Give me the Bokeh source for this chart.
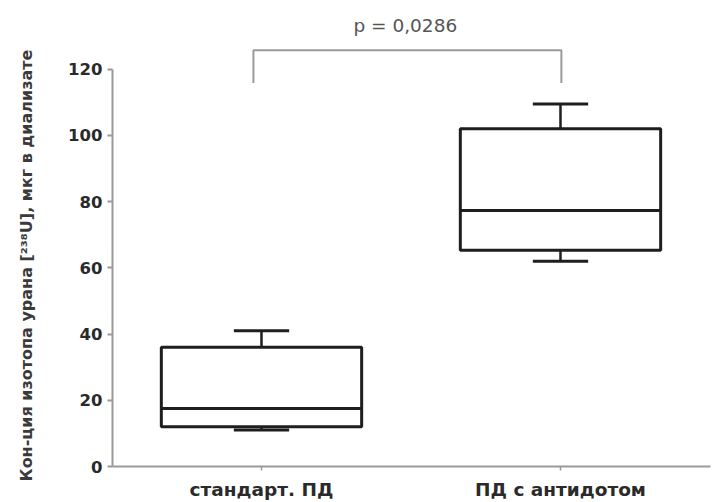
import math
from bokeh.plotting import figure
from bokeh.models import Range1d, FixedTicker, Label
from bokeh.layouts import row
from bokeh.core.properties import value
from bokeh.embed import file_html
from bokeh.resources import INLINE

# ---- data ----
categories = ["стандарт. ПД", "ПД с антидотом"]
whisker_low = [11.0, 62.0]
q1 = [12.0, 65.3]
median = [17.5, 77.3]
q3 = [36.0, 102.0]
whisker_high = [41.0, 109.5]
y_ticks = [0, 20, 40, 60, 80, 100, 120]
p_label = "p = 0,0286"
y_title = "Кон-ция изотопа урана [²³⁸U], мкг в диализате"

xs = [i + 1 for i in range(len(categories))]
box_w = 0.67
cap_w = 0.185
dark = "#1e1e1e"
grey = "#9a9a9a"

# ---- narrow panel holding the rotated y-axis title ----
tf = figure(width=40, height=502, output_backend="svg", toolbar_location=None,
            x_range=Range1d(0, 40), y_range=Range1d(0, 502),
            x_axis_location=None, y_axis_location=None, min_border=0,
            frame_align=False)
tf.outline_line_color = None
tf.xgrid.visible = False
tf.ygrid.visible = False
tf.text(x=[26], y=[502 - 265], text=[y_title], angle=math.pi / 2,
        text_align="center", text_baseline="middle",
        text_font=value("DejaVu Sans"), text_font_style="bold",
        text_font_size="16px", text_color="#3a3a3a")

# ---- main plot ----
p = figure(width=675, height=502, output_backend="svg", toolbar_location=None,
           x_range=Range1d(0.5017, 2.5017), y_range=Range1d(0, 140.75),
           min_border_left=72, min_border_right=5, min_border_top=0, min_border_bottom=34,
           frame_align=False)
p.outline_line_color = None
p.xgrid.visible = False
p.ygrid.visible = False
p.background_fill_color = "white"
p.border_fill_color = "white"

# boxes
p.quad(left=[x - box_w / 2 for x in xs], right=[x + box_w / 2 for x in xs],
       bottom=q1, top=q3, fill_color=None, line_color=dark, line_width=3)
# medians
p.segment(x0=[x - box_w / 2 for x in xs], x1=[x + box_w / 2 for x in xs],
          y0=median, y1=median, line_color=dark, line_width=3)
# whisker stems
p.segment(x0=xs, x1=xs, y0=q3, y1=whisker_high, line_color=dark, line_width=2.5)
p.segment(x0=xs, x1=xs, y0=q1, y1=whisker_low, line_color=dark, line_width=2.5)
# caps
p.segment(x0=[x - cap_w / 2 for x in xs], x1=[x + cap_w / 2 for x in xs],
          y0=whisker_high, y1=whisker_high, line_color=dark, line_width=3)
p.segment(x0=[x - cap_w / 2 for x in xs], x1=[x + cap_w / 2 for x in xs],
          y0=whisker_low, y1=whisker_low, line_color=dark, line_width=3)

# significance bracket
bx0, bx1 = xs[0] - 0.027, xs[1] + 0.003
by_top, by_bot = 125.7, 115.8
p.line(x=[bx0, bx0, bx1, bx1], y=[by_bot, by_top, by_top, by_bot],
       line_color=grey, line_width=2)
p.add_layout(Label(x=(bx0 + bx1) / 2 - 0.007, y=133.2, text=p_label, text_align="center",
                   text_baseline="middle", text_font="DejaVu Sans", text_font_size="18.5px",
                   text_color="#555555"))

# y axis
ya = p.yaxis[0]
ya.ticker = FixedTicker(ticks=y_ticks)
ya.bounds = (0, 120)
ya.axis_line_color = grey
ya.axis_line_width = 2
ya.major_tick_line_color = grey
ya.major_tick_line_width = 2
ya.major_tick_out = 5
ya.major_tick_in = 0
ya.minor_tick_line_color = None
ya.major_label_standoff = 5
ya.major_label_text_font = "DejaVu Sans"
ya.major_label_text_font_style = "bold"
ya.major_label_text_font_size = "16.5px"
ya.major_label_text_color = "#2a2a2a"

# x axis
xa = p.xaxis[0]
xa.ticker = FixedTicker(ticks=xs)
xa.major_label_overrides = {x: c for x, c in zip(xs, categories)}
xa.axis_line_color = grey
xa.axis_line_width = 2
xa.major_tick_line_color = grey
xa.major_tick_line_width = 1.5
xa.major_tick_out = 4
xa.major_tick_in = 0
xa.minor_tick_line_color = None
xa.major_label_standoff = 8
xa.major_label_text_font = "DejaVu Sans"
xa.major_label_text_font_style = "bold"
xa.major_label_text_font_size = "18.5px"
xa.major_label_text_color = "#2a2a2a"

layout = row(tf, p, spacing=0)
open("out.html", "w").write(file_html(layout, INLINE))
